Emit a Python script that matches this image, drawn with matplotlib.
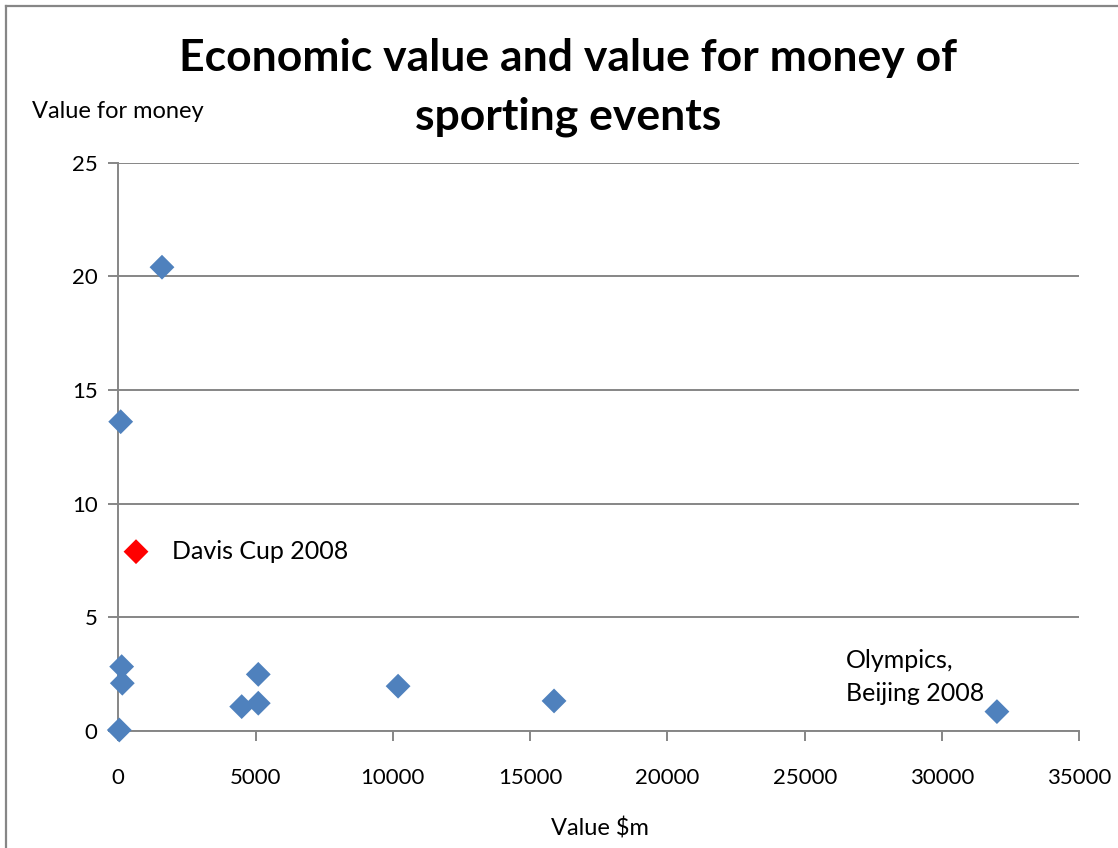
import matplotlib
matplotlib.use("Agg")
import matplotlib.pyplot as plt
from matplotlib.lines import Line2D

plt.rcParams['font.family'] = ['Lato', 'DejaVu Sans']

# Sporting events: economic value ($m) and value for money
value_m = [36, 87, 123, 146, 1591, 4494, 5098, 5098, 10190, 15870, 32000]
value_for_money = [0.03, 13.6, 2.82, 2.09, 20.4, 1.06, 2.48, 1.21, 1.96, 1.31, 0.84]

davis_value = [645]
davis_vfm = [7.88]

x_ticks = [0, 5000, 10000, 15000, 20000, 25000, 30000, 35000]
y_ticks = [0, 5, 10, 15, 20, 25]

W, H = 1118, 848
fig = plt.figure(figsize=(W / 100, H / 100), dpi=100)
fig.patch.set_facecolor('white')

ax = fig.add_axes([118.3 / W, 1 - 730.7 / H, (1079.3 - 118.3) / W, (730.7 - 162.7) / H])

grey = '#868686'
ax.scatter(value_m, value_for_money, marker='D', s=160, color='#4F81BD',
           edgecolors='none', zorder=3, clip_on=False)
ax.scatter(davis_value, davis_vfm, marker='D', s=160, color='#FF0000',
           edgecolors='none', zorder=3, clip_on=False)

ax.set_xlim(0, 35000)
ax.set_ylim(0, 25)
ax.set_xticks(x_ticks)
ax.set_yticks(y_ticks)
ax.set_xticklabels([str(t) for t in x_ticks])
ax.set_yticklabels([str(t) for t in y_ticks])

ax.yaxis.grid(True, color=grey, linewidth=1.4)
ax.set_axisbelow(True)
for side in ('top', 'right'):
    ax.spines[side].set_visible(False)
for side in ('left', 'bottom'):
    ax.spines[side].set_color(grey)
    ax.spines[side].set_linewidth(1.4)
ax.tick_params(axis='both', direction='out', length=7, width=1.4, color=grey,
               labelsize=16, labelcolor='black')
ax.tick_params(axis='x', pad=20)
ax.tick_params(axis='y', pad=8)

# Point labels
ax.text(1970, 7.88, 'Davis Cup 2008', fontsize=18, va='center', ha='left')
ax.text(26500, 2.36, 'Olympics,\nBeijing 2008', fontsize=18, va='center', ha='left',
        linespacing=1.5)

# Title (two lines) and axis titles
title_lines = ['Economic value and value for money of', 'sporting events']
for line, y_px in zip(title_lines, [58, 117]):
    fig.text(568 / W, 1 - y_px / H, line, fontsize=32, fontweight='bold',
             ha='center', va='center')
fig.text(32 / W, 1 - 112 / H, 'Value for money', fontsize=17, ha='left', va='center')
fig.text(600 / W, 1 - 828 / H, 'Value $m', fontsize=17, ha='center', va='center')

# Chart area border (left and top edges)
fig.add_artist(Line2D([6 / W, 6 / W], [0, 1 - 6 / H], transform=fig.transFigure,
                      color=grey, linewidth=1.6))
fig.add_artist(Line2D([6 / W, 1], [1 - 6 / H, 1 - 6 / H], transform=fig.transFigure,
                      color=grey, linewidth=1.6))

fig.savefig('out.png', dpi=100)
